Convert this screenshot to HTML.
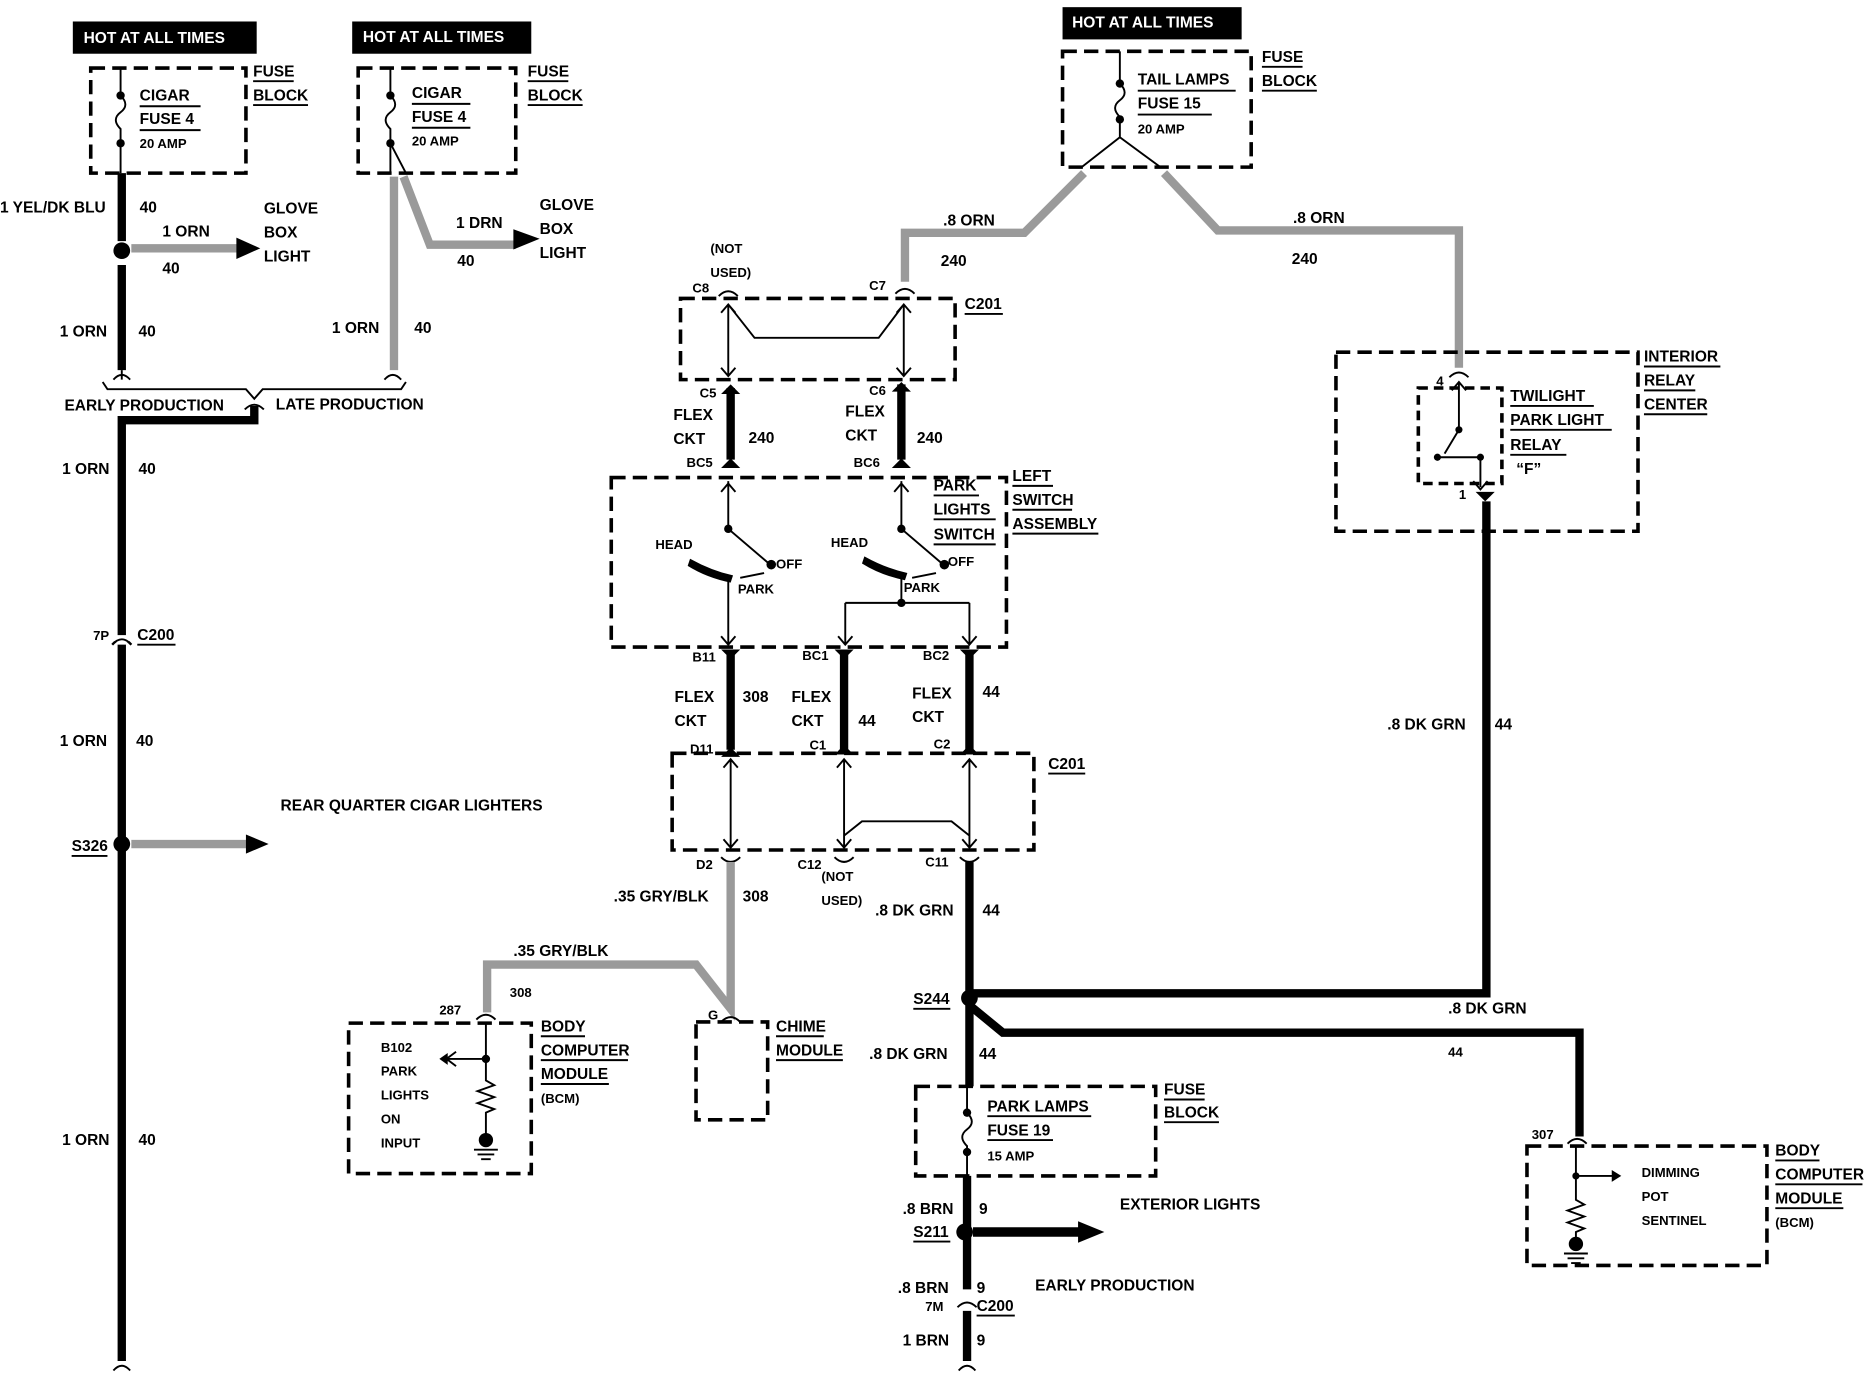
<!DOCTYPE html>
<html><head><meta charset="utf-8"><style>
html,body{margin:0;padding:0;background:#fff;}
svg{display:block;}
text{font-family:"Liberation Sans",sans-serif;font-weight:bold;font-size:13px;fill:#000;}
.s{font-size:11px;}
.w{fill:#fff;}
.d{fill:none;stroke:#000;stroke-width:3;stroke-dasharray:12,6;}
.t{fill:none;stroke:#000;stroke-width:1.6;}
.k{fill:none;stroke:#000;stroke-width:7;}
.g{fill:none;stroke:#9a9a9a;stroke-width:7;}
.u{stroke:#000;stroke-width:1.6;}
</style></head><body>
<svg width="1872" height="1392" viewBox="0 0 1568 1166" preserveAspectRatio="none" xmlns="http://www.w3.org/2000/svg">
<rect width="1568" height="1166" fill="#fff"/>
<!-- left fuse block -->
<rect x="61" y="18" width="154" height="27" fill="#000"/><text class="w" x="70" y="36">HOT AT ALL TIMES</text>
<rect class="d" x="76" y="57" width="130" height="88"/>
<path class="t" d="M101 57V80 q8 8 0 14 q-8 6 0 14 V145"/><circle cx="101" cy="80" r="3.5"/><circle cx="101" cy="120" r="3.5"/>
<text x="117" y="84">CIGAR</text><line class="u" x1="117" y1="89" x2="168" y2="89"/>
<text x="117" y="104">FUSE 4</text><line class="u" x1="117" y1="109" x2="168" y2="109"/>
<text class="s" x="117" y="124">20 AMP</text>
<text x="212" y="64">FUSE</text><line class="u" x1="212" y1="68" x2="246" y2="68"/>
<text x="212" y="84">BLOCK</text><line class="u" x1="212" y1="88" x2="258" y2="88"/>
<path class="k" d="M102 145V202"/><circle cx="102" cy="210" r="7"/>
<path class="g" d="M110 208H200"/><path d="M198 199L218 208L198 217Z"/>
<text x="0" y="178">1 YEL/DK BLU</text><text x="117" y="178">40</text>
<text x="136" y="198">1 ORN</text><text x="136" y="229">40</text>
<text x="221" y="179">GLOVE</text><text x="221" y="199">BOX</text><text x="221" y="219">LIGHT</text>
<path class="k" d="M102 222V310"/><path class="t" d="M95 318q7-8 14 0M102 310V318"/>
<text x="50" y="282">1 ORN</text><text x="116" y="282">40</text>
<!-- second fuse block -->
<rect x="295" y="18" width="150" height="27" fill="#000"/><text class="w" x="304" y="35">HOT AT ALL TIMES</text>
<rect class="d" x="300" y="57" width="132" height="88"/>
<path class="t" d="M327 57V80 q8 8 0 14 q-8 6 0 14 V145M327 120L340 145"/><circle cx="327" cy="80" r="3.5"/><circle cx="327" cy="120" r="3.5"/>
<text x="345" y="82">CIGAR</text><line class="u" x1="345" y1="87" x2="394" y2="87"/>
<text x="345" y="102">FUSE 4</text><line class="u" x1="345" y1="107" x2="394" y2="107"/>
<text class="s" x="345" y="122">20 AMP</text>
<text x="442" y="64">FUSE</text><line class="u" x1="442" y1="68" x2="476" y2="68"/>
<text x="442" y="84">BLOCK</text><line class="u" x1="442" y1="88" x2="488" y2="88"/>
<path class="g" d="M330 148V310M338 148L360 205H432"/><path d="M430 192L452 200L430 209Z"/>
<path class="t" d="M322 318q7-8 14 0"/>
<text x="382" y="191">1 DRN</text><text x="383" y="223">40</text>
<text x="452" y="176">GLOVE</text><text x="452" y="196">BOX</text><text x="452" y="216">LIGHT</text>
<text x="278" y="279">1 ORN</text><text x="347" y="279">40</text>
<!-- bracket -->
<path class="t" d="M86 320L90 326H206L213 334L220 326H336L340 320"/>
<text x="54" y="344">EARLY PRODUCTION</text><text x="231" y="343">LATE PRODUCTION</text>
<path class="t" d="M205 343q8-8 16 0"/>
<path class="k" d="M213 340V352H102V1140"/>
<path class="t" d="M95 1148q7-8 14 0"/>
<text x="52" y="397">1 ORN</text><text x="116" y="397">40</text>
<path fill="#fff" stroke="#000" stroke-width="2" d="M94 540q8-9 16 0"/><rect x="96" y="532" width="12" height="6" fill="#fff"/>
<path class="t" d="M94 540q8-9 16 0"/>
<text x="78" y="536" class="s">7P</text><text x="115" y="536">C200</text><line class="u" x1="115" y1="540" x2="147" y2="540"/>
<text x="50" y="625">1 ORN</text><text x="114" y="625">40</text>
<circle cx="102" cy="707" r="7"/><text x="60" y="713">S326</text><line class="u" x1="60" y1="717" x2="90" y2="717"/>
<path class="g" d="M110 707H208"/><path d="M206 699L225 707L206 715Z"/>
<text x="235" y="679">REAR QUARTER CIGAR LIGHTERS</text>
<text x="52" y="959">1 ORN</text><text x="116" y="959">40</text>
<!-- tail lamp fuse -->
<rect x="890" y="6" width="150" height="27" fill="#000"/><text class="w" x="898" y="23">HOT AT ALL TIMES</text>
<rect class="d" x="890" y="43" width="158" height="97"/>
<path class="t" d="M938 43V70 q8 8 0 14 q-8 6 0 14 V115L906 140M938 115L972 140"/><circle cx="938" cy="70" r="3.5"/><circle cx="938" cy="100" r="3.5"/>
<text x="953" y="71">TAIL LAMPS</text><line class="u" x1="953" y1="76" x2="1035" y2="76"/>
<text x="953" y="91">FUSE 15</text><line class="u" x1="953" y1="96" x2="1015" y2="96"/>
<text class="s" x="953" y="112">20 AMP</text>
<text x="1057" y="52">FUSE</text><line class="u" x1="1057" y1="56" x2="1091" y2="56"/>
<text x="1057" y="72">BLOCK</text><line class="u" x1="1057" y1="76" x2="1103" y2="76"/>
<path class="g" d="M908 145L858 195H758V236"/><path class="g" d="M975 145L1020 193H1222V308"/>
<text x="790" y="189">.8 ORN</text><text x="788" y="223">240</text>
<text x="1083" y="187">.8 ORN</text><text x="1082" y="221">240</text>
<!-- C201 top -->
<text class="s" x="595" y="212">(NOT</text><text class="s" x="595" y="232">USED)</text>
<text class="s" x="580" y="245">C8</text><text class="s" x="728" y="243">C7</text>
<path class="t" d="M602 248q8-8 16 0M750 246q8-8 16 0"/>
<rect class="d" x="570" y="250" width="230" height="68"/>
<text x="808" y="259">C201</text><line class="u" x1="808" y1="263" x2="840" y2="263"/>
<path class="t" d="M610 255V315M757 255V315M610 255L632 283H736L757 255M604 262l6-7 6 7M751 262l6-7 6 7M604 308l6 7 6-7M751 308l6 7 6-7"/>
<path class="k" d="M612 325V385M755 322V385"/>
<path d="M604 330l8-8 8 8ZM747 328l8-8 8 8ZM604 392l8-8 8 8ZM747 392l8-8 8 8Z"/>
<text class="s" x="586" y="333">C5</text><text class="s" x="728" y="331">C6</text>
<text x="564" y="352">FLEX</text><text x="564" y="372">CKT</text><text x="627" y="371">240</text>
<text x="708" y="349">FLEX</text><text x="708" y="369">CKT</text><text x="768" y="371">240</text>
<text class="s" x="575" y="391">BC5</text><text class="s" x="715" y="391">BC6</text>
<!-- switch assembly -->
<rect class="d" x="512" y="400" width="331" height="142"/>
<text x="782" y="411">PARK</text><line class="u" x1="782" y1="415" x2="820" y2="415"/>
<text x="782" y="431">LIGHTS</text><line class="u" x1="782" y1="435" x2="834" y2="435"/>
<text x="782" y="452">SWITCH</text><line class="u" x1="782" y1="456" x2="834" y2="456"/>
<text x="848" y="403">LEFT</text><line class="u" x1="848" y1="407" x2="882" y2="407"/>
<text x="848" y="423">SWITCH</text><line class="u" x1="848" y1="427" x2="898" y2="427"/>
<text x="848" y="443">ASSEMBLY</text><line class="u" x1="848" y1="447" x2="920" y2="447"/>
<path class="t" d="M610 403V443L644 472M604 412l6-7 6 7M610 485V540M604 533l6 7 6-7"/>
<circle cx="610" cy="443" r="3.5"/><circle cx="646" cy="473" r="4"/>
<path d="M578 468q18 10 36 14l-2 6q-20-4-36-14Z"/>
<text class="s" x="549" y="460">HEAD</text><text class="s" x="650" y="476">OFF</text><text class="s" x="618" y="497">PARK</text>
<path class="t" d="M620 484L640 480M764 484L784 480"/>
<path class="t" d="M755 403V443L789 472M749 412l6-7 6 7M755 485V505M708 505H812M708 505V540M812 505V540M702 533l6 7 6-7M806 533l6 7 6-7"/>
<circle cx="755" cy="443" r="3.5"/><circle cx="791" cy="473" r="4"/><circle cx="755" cy="505" r="3.5"/>
<path d="M724 466q18 10 36 14l-2 6q-20-4-36-14Z"/>
<text class="s" x="696" y="458">HEAD</text><text class="s" x="794" y="474">OFF</text><text class="s" x="757" y="496">PARK</text>
<text class="s" x="580" y="554">B11</text><text class="s" x="672" y="553">BC1</text><text class="s" x="773" y="553">BC2</text>
<path d="M604 544l8 8 8-8ZM699 544l8 8 8-8ZM804 544l8 8 8-8Z"/>
<path class="k" d="M612 548V628M707 548V628M812 548V628"/>
<path d="M604 634l8-8 8 8ZM699 632l8-8 8 8ZM804 632l8-8 8 8Z"/>
<text x="565" y="588">FLEX</text><text x="565" y="608">CKT</text><text x="622" y="588">308</text>
<text x="663" y="588">FLEX</text><text x="663" y="608">CKT</text><text x="719" y="608">44</text>
<text x="764" y="585">FLEX</text><text x="764" y="605">CKT</text><text x="823" y="584">44</text>
<text class="s" x="578" y="631">D11</text><text class="s" x="678" y="628">C1</text><text class="s" x="782" y="627">C2</text>
<!-- C201 lower -->
<rect class="d" x="563" y="631" width="303" height="81"/>
<text x="878" y="644">C201</text><line class="u" x1="878" y1="648" x2="909" y2="648"/>
<path class="t" d="M612 636V710M707 636V710M812 636V710M707 700L722 688H797L812 700M606 643l6-7 6 7M701 643l6-7 6 7M806 643l6-7 6 7M606 703l6 7 6-7M701 703l6 7 6-7M806 703l6 7 6-7"/>
<path class="t" d="M604 718q8 8 16 0M699 718q8 8 16 0M804 718q8 8 16 0"/>
<text class="s" x="583" y="728">D2</text><text class="s" x="668" y="728">C12</text><text class="s" x="775" y="726">C11</text>
<text class="s" x="688" y="738">(NOT</text><text class="s" x="688" y="758">USED)</text>
<path class="g" d="M612 722V845L583 808H408V848"/>
<text x="514" y="755">.35 GRY/BLK</text><text x="622" y="755">308</text>
<text x="430" y="801">.35 GRY/BLK</text><text class="s" x="427" y="835">308</text>
<!-- chime -->
<text class="s" x="593" y="854">G</text><path class="t" d="M604 856q8-8 16 0"/>
<rect class="d" x="583" y="856" width="60" height="82"/>
<text x="650" y="864">CHIME</text><line class="u" x1="650" y1="868" x2="690" y2="868"/>
<text x="650" y="884">MODULE</text><line class="u" x1="650" y1="888" x2="706" y2="888"/>
<!-- left BCM -->
<text class="s" x="368" y="850">287</text><path class="t" d="M399 854q8-8 16 0"/>
<rect class="d" x="292" y="857" width="153" height="126"/>
<path class="t" d="M407 857V905l7 4-14 5 14 5-14 5 14 5-7 3V950M407 887H375M382 881l-8 6 8 6"/>
<path d="M375 882l-7 5 7 5Z"/><circle cx="407" cy="887" r="3.5"/><circle cx="407" cy="955" r="6"/>
<path class="t" d="M397 963H417M400 967H414M403 971H411"/>
<text class="s" x="319" y="881">B102</text><text class="s" x="319" y="901">PARK</text><text class="s" x="319" y="921">LIGHTS</text><text class="s" x="319" y="941">ON</text><text class="s" x="319" y="961">INPUT</text>
<text x="453" y="864">BODY</text><line class="u" x1="453" y1="868" x2="490" y2="868"/>
<text x="453" y="884">COMPUTER</text><line class="u" x1="453" y1="888" x2="526" y2="888"/>
<text x="453" y="904">MODULE</text><line class="u" x1="453" y1="908" x2="510" y2="908"/>
<text class="s" x="453" y="924">(BCM)</text>
<!-- green wires -->
<path class="k" d="M812 722V910M812 832H1245V420M812 842L840 865H1323V952"/>
<circle cx="812" cy="836" r="7"/>
<text x="733" y="767">.8 DK GRN</text><text x="823" y="767">44</text>
<text x="765" y="841">S244</text><line class="u" x1="765" y1="845" x2="796" y2="845"/>
<text x="1213" y="849">.8 DK GRN</text><text class="s" x="1213" y="885">44</text>
<text x="728" y="887">.8 DK GRN</text><text x="820" y="887">44</text>
<text x="1162" y="611">.8 DK GRN</text><text x="1252" y="611">44</text>
<!-- park lamp fuse -->
<rect class="d" x="767" y="910" width="201" height="75"/>
<path class="t" d="M810 910V932 q8 8 0 14 q-8 6 0 14 V985"/><circle cx="810" cy="932" r="3.5"/><circle cx="810" cy="965" r="3.5"/>
<text x="827" y="931">PARK LAMPS</text><line class="u" x1="827" y1="935" x2="914" y2="935"/>
<text x="827" y="951">FUSE 19</text><line class="u" x1="827" y1="955" x2="882" y2="955"/>
<text class="s" x="827" y="972">15 AMP</text>
<text x="975" y="917">FUSE</text><line class="u" x1="975" y1="921" x2="1009" y2="921"/>
<text x="975" y="936">BLOCK</text><line class="u" x1="975" y1="940" x2="1021" y2="940"/>
<path class="k" d="M810 985V1080M810 1098V1140"/>
<circle cx="808" cy="1032" r="7"/>
<path d="M815 1028H905V1036H815Z"/><path d="M903 1023L925 1032L903 1041Z"/>
<text x="756" y="1017">.8 BRN</text><text x="820" y="1017">9</text>
<text x="765" y="1036">S211</text><line class="u" x1="765" y1="1040" x2="796" y2="1040"/>
<text x="938" y="1013">EXTERIOR LIGHTS</text>
<text x="752" y="1083">.8 BRN</text><text x="818" y="1083">9</text>
<path class="t" d="M802 1095q8-8 16 0"/>
<text class="s" x="775" y="1098">7M</text><text x="818" y="1098">C200</text><line class="u" x1="818" y1="1102" x2="850" y2="1102"/>
<text x="867" y="1081">EARLY PRODUCTION</text>
<text x="756" y="1127">1 BRN</text><text x="818" y="1127">9</text>
<path class="t" d="M803 1148q7-8 14 0"/>
<!-- interior relay center -->
<rect class="d" x="1119" y="295" width="253" height="150"/>
<rect class="d" x="1188" y="325" width="70" height="80" style="stroke-dasharray:8,5"/>
<text x="1377" y="303">INTERIOR</text><line class="u" x1="1377" y1="307" x2="1441" y2="307"/>
<text x="1377" y="323">RELAY</text><line class="u" x1="1377" y1="327" x2="1420" y2="327"/>
<text x="1377" y="343">CENTER</text><line class="u" x1="1377" y1="347" x2="1430" y2="347"/>
<text class="s" x="1203" y="323">4</text><text class="s" x="1222" y="418">1</text>
<path class="t" d="M1214 316q8-8 16 0M1222 320V360L1210 380M1205 383L1240 383M1240 383V408M1234 403l6 7 6-7M1216 327l6-7 6 7"/>
<circle cx="1222" cy="360" r="3"/><circle cx="1204" cy="383" r="3"/><circle cx="1240" cy="383" r="3"/>
<path d="M1236 412l8 8 8-8Z"/>
<text x="1265" y="336">TWILIGHT</text><line class="u" x1="1265" y1="340" x2="1335" y2="340"/>
<text x="1265" y="356">PARK LIGHT</text><line class="u" x1="1265" y1="360" x2="1350" y2="360"/>
<text x="1265" y="377">RELAY</text><line class="u" x1="1265" y1="381" x2="1312" y2="381"/>
<text x="1270" y="397">“F”</text>
<!-- right BCM -->
<text class="s" x="1283" y="954">307</text><path class="t" d="M1313 958q8-8 16 0"/>
<rect class="d" x="1279" y="960" width="201" height="100"/>
<path class="t" d="M1320 960V1005l7 4-14 5 14 5-14 5 14 5-7 3V1040M1320 985H1352"/>
<path d="M1350 980l8 5-8 5Z"/><circle cx="1320" cy="985" r="3"/><circle cx="1320" cy="1042" r="6"/>
<path class="t" d="M1310 1050H1330M1313 1054H1327M1316 1058H1324"/>
<text class="s" x="1375" y="986">DIMMING</text><text class="s" x="1375" y="1006">POT</text><text class="s" x="1375" y="1026">SENTINEL</text>
<text x="1487" y="968">BODY</text><line class="u" x1="1487" y1="972" x2="1524" y2="972"/>
<text x="1487" y="988">COMPUTER</text><line class="u" x1="1487" y1="992" x2="1560" y2="992"/>
<text x="1487" y="1008">MODULE</text><line class="u" x1="1487" y1="1012" x2="1544" y2="1012"/>
<text class="s" x="1487" y="1028">(BCM)</text>
</svg>
</body></html>
